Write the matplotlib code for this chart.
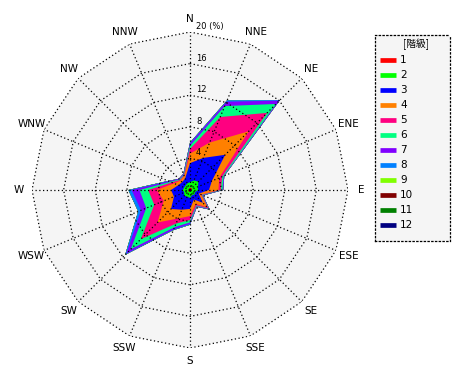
import numpy as np
import matplotlib
matplotlib.use('Agg')
import matplotlib.pyplot as plt

directions = ['N', 'NNE', 'NE', 'ENE', 'E', 'ESE', 'SE', 'SSE',
              'S', 'SSW', 'SW', 'WSW', 'W', 'WNW', 'NW', 'NNW']
classes = ['1', '2', '3', '4', '5', '6', '7', '8', '9', '10', '11', '12']
colors = ['#ff0000', '#00ff00', '#0000ff', '#ff8000', '#ff0080', '#00ff80',
          '#8000ff', '#0080ff', '#80ff00', '#800000', '#008000', '#000080']

# frequency (%) of each wind class per direction
class_1 = [0.3, 0.3, 0.3, 0.3, 0.2, 0.2, 0.2, 0.2, 0.2, 0.2, 0.3, 0.2, 0.2, 0.2, 0.2, 0.2]
class_2 = [0.7, 1.0, 1.2, 0.8, 0.8, 0.5, 0.6, 0.5, 0.8, 0.7, 0.7, 0.6, 0.7, 0.6, 0.6, 0.7]
class_3 = [2.4, 3.1, 4.8, 1.9, 1.4, 0.5, 1.5, 0.6, 1.4, 1.8, 2.4, 1.4, 1.5, 0.8, 0.6, 0.7]
class_4 = [1.2, 2.1, 4.2, 1.0, 1.2, 0.3, 0.8, 0.6, 0.9, 1.2, 2.4, 1.4, 1.8, 0.6, 0.3, 0.3]
class_5 = [0.6, 3.5, 3.3, 0.4, 0.3, 0.1, 0.2, 0.2, 0.5, 0.7, 3.0, 1.3, 1.1, 0.3, 0.1, 0.1]
class_6 = [0.4, 1.5, 1.6, 0.2, 0.2, 0.1, 0.1, 0.1, 0.3, 0.5, 1.8, 1.1, 1.1, 0.2, 0.1, 0.1]
class_7 = [0.3, 0.6, 0.6, 0.1, 0.1, 0.1, 0.1, 0.1, 0.2, 0.3, 0.8, 0.7, 1.0, 0.2, 0.1, 0.1]
class_8 = [0.1, 0.2, 0.1, 0.0, 0.0, 0.0, 0.0, 0.0, 0.1, 0.1, 0.2, 0.4, 0.4, 0.1, 0.0, 0.0]
class_9 = [0.0] * 16
class_10 = [0.0] * 16
class_11 = [0.0] * 16
class_12 = [0.0] * 16

rings = [4, 8, 12, 16, 20]
ring_labels = ['4', '8', '12', '16', '20 (%)']

freq = np.array([class_1, class_2, class_3, class_4, class_5, class_6,
                 class_7, class_8, class_9, class_10, class_11, class_12])
cum = np.cumsum(freq, axis=0)

theta = np.deg2rad(np.arange(len(directions)) * 360 / len(directions))
theta_c = np.append(theta, theta[0])

fig = plt.figure(figsize=(4.7, 3.8), dpi=100)
ax = fig.add_axes([32 / 470, 32 / 380, 316 / 470, 316 / 380], projection='polar')
ax.set_theta_zero_location('N')
ax.set_theta_direction(-1)
ax.set_ylim(0, 20)
ax.axis('off')

dots = (0, (1, 2))
ax.fill(theta_c, [rings[-1]] * len(theta_c), color='#f5f5f5', lw=0, zorder=0)

for k in reversed(range(len(classes))):
    r = np.append(cum[k], cum[k][0])
    ax.fill(theta_c, r, color=colors[k], lw=0, zorder=1)

for rv in rings:
    ax.plot(theta_c, [rv] * len(theta_c), color='black', lw=0.9, ls=dots, zorder=3)
for t in theta:
    ax.plot([t, t], [0, rings[-1]], color='black', lw=0.9, ls=dots, zorder=3)

for t, name in zip(theta, directions):
    ax.text(t, 21.7, name, ha='center', va='center', fontsize=7.5, zorder=4)

for rv, lab in zip(rings, ring_labels):
    ax.annotate(lab, xy=(0, rv), xytext=(6, 1), textcoords='offset pixels',
                ha='left', va='bottom', fontsize=6, zorder=4)

# legend box
lg = fig.add_axes([375 / 470, (380 - 241) / 380, 75 / 470, 206 / 380])
lg.set_xlim(0, 75)
lg.set_ylim(206, 0)
lg.set_facecolor('#f5f5f5')
lg.set_xticks([])
lg.set_yticks([])
for sp in lg.spines.values():
    sp.set_linestyle(dots)
    sp.set_linewidth(0.9)
lg.text(41, 9, '[階級]', ha='center', va='center', fontsize=7,
        family=['Noto Sans CJK JP', 'DejaVu Sans'])
for i, (c, name) in enumerate(zip(colors, classes)):
    y = 25 + 15 * i
    lg.plot([5, 21], [y, y], color=c, lw=3.4, solid_capstyle='butt')
    lg.text(25, y, name, ha='left', va='center', fontsize=7.5)

fig.savefig('out.png', dpi=100)
